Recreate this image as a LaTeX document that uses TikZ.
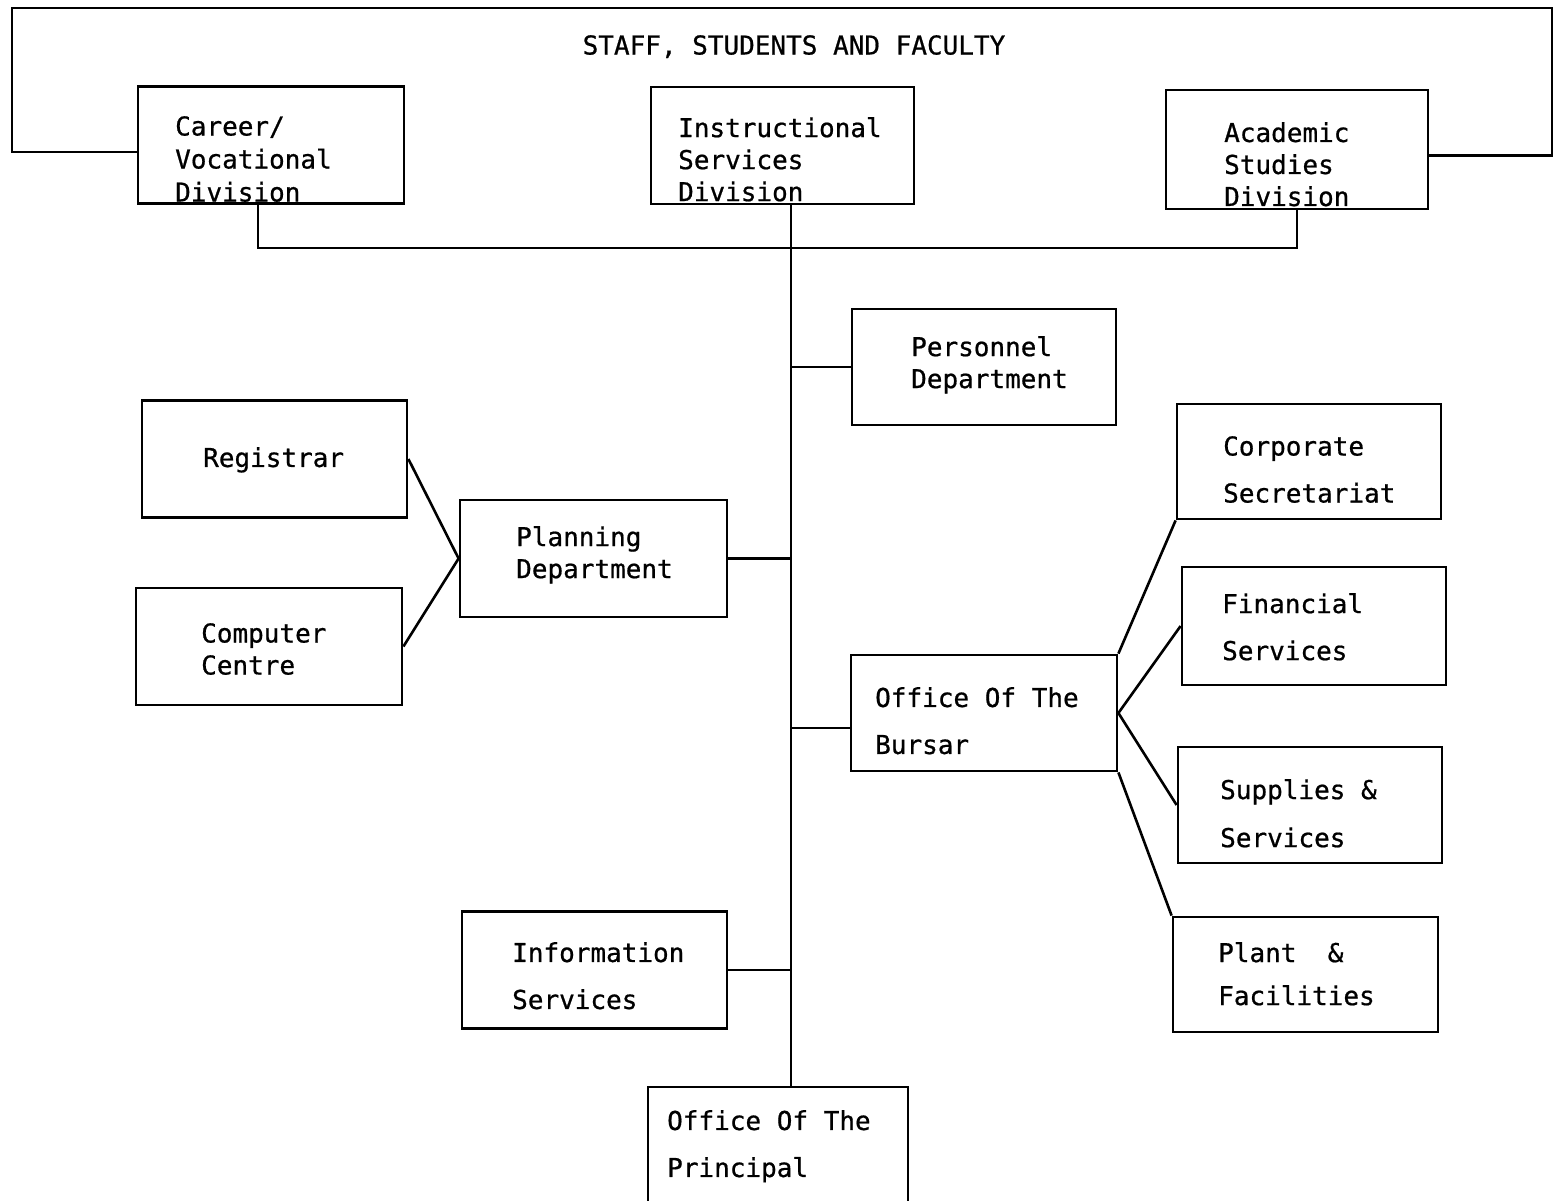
\documentclass[tikz,border=0pt]{standalone}
\usepackage{fontspec}
\setmonofont[BoldFont={DejaVu Sans Mono}, BoldFeatures={FakeBold=0.7}]{DejaVu Sans Mono}
\usepackage{tikz}
\usetikzlibrary{positioning, calc}

\begin{document}
\begin{tikzpicture}[x=1pt, y=-1pt,
  unit/.style={draw, line width=2.8pt, minimum width=265pt, minimum height=117pt, inner sep=0pt},
  txt/.style={anchor=north west, align=left, inner sep=0pt, font=\ttfamily\bfseries\fontsize{26}{32}\selectfont},
  link/.style={line width=2.6pt}]
  \useasboundingbox (0,0) rectangle (1553,1200);

  % Divisions
  \node[unit, minimum width=266pt] (career) at (271,145) {};
  \node[unit, minimum width=263pt] (instr) at (782.5,145.5) {};
  \node[unit, minimum width=262pt, minimum height=119pt] (acad) at (1297,149.5) {};

  % Left side
  \node[unit] (reg) at (274.5,459) {};
  \node[unit, minimum width=266pt] (comp) at (269,646.5) {};
  \node[unit, minimum width=267pt] (plan) at (593.5,558.5) {};
  \node[unit] (info) at (594.5,970) {};

  % Right side
  \node[unit, minimum width=264pt, minimum height=116pt] (pers) at (984,367) {};
  \node[unit, minimum width=266pt, minimum height=116pt] (burs) at (984,713) {};
  \node[unit, minimum width=264pt, minimum height=115pt] (corp) at (1309,461.5) {};
  \node[unit, minimum width=264pt, minimum height=118pt] (fin) at (1314,626) {};
  \node[unit, minimum width=264pt, minimum height=116pt] (sup) at (1310,805) {};
  \node[unit, minimum height=115pt] (plant) at (1305.5,974.5) {};

  % Bottom
  \node[unit, minimum width=260pt, minimum height=150pt] (princ) at (778,1162) {};

  % Texts
  \node[txt, anchor=north] (staff) at (794,35) {STAFF, STUDENTS AND FACULTY};
  \node[txt] (career-t) at (175,116) {Career/\\[1pt]Vocational\\[1pt]Division};
  \node[txt] (instr-t) at (678,117) {Instructional\\Services\\Division};
  \node[txt] (acad-t) at (1224,122) {Academic\\Studies\\Division};
  \node[txt] (pers-t) at (911,336) {Personnel\\Department};
  \node[txt] (reg-t) at (203,447) {Registrar};
  \node[txt] (comp-t) at (201,623) {Computer\\Centre};
  \node[txt] (plan-t) at (516,526) {Planning\\Department};
  \node[txt] (burs-t) at (875,687) {Office Of The\\[15pt]Bursar};
  \node[txt] (corp-t) at (1223,436) {Corporate\\[15pt]Secretariat};
  \node[txt] (fin-t) at (1222,593) {Financial\\[15pt]Services};
  \node[txt] (sup-t) at (1220,779) {Supplies \&\\[16pt]Services};
  \node[txt] (plant-t) at (1218,942) {Plant\ \ \&\\[11pt]Facilities};
  \node[txt] (info-t) at (512,942) {Information\\[15pt]Services};
  \node[txt] (princ-t) at (667,1110) {Office Of The\\[15pt]Principal};

  % Outer frame and division bus
  \coordinate (frameTL) at (12,8);
  \coordinate (frameTR) at (1552,8);
  \coordinate (bus) at (0,248);
  \draw[link] ([yshift=-7pt]career.west) -| (frameTL) -- (frameTR) |- ([yshift=-6pt]acad.east);
  \draw[link] ([xshift=-13pt]career.south) |- (bus -| acad.south) -- (acad.south);

  % Main spine
  \coordinate (spine) at (791,0);
  \coordinate (bursin) at ([yshift=-15pt]burs.west);
  \draw[link] (instr.south -| spine) -- (princ.north -| spine);
  \draw[link] (pers.west) -- (pers.west -| spine);
  \draw[link] (plan.east) -- (plan.east -| spine);
  \draw[link] (bursin) -- (bursin -| spine);
  \draw[link] (info.east) -- (info.east -| spine);

  % Branches
  \draw[link] (reg.east) -- (plan.west) -- (comp.east);
  \draw[link] (corp.south west) -- (burs.north east);
  \draw[link] (fin.west) -- (burs.east) -- (sup.west);
  \draw[link] (burs.south east) -- (plant.north west);
\end{tikzpicture}
\end{document}
